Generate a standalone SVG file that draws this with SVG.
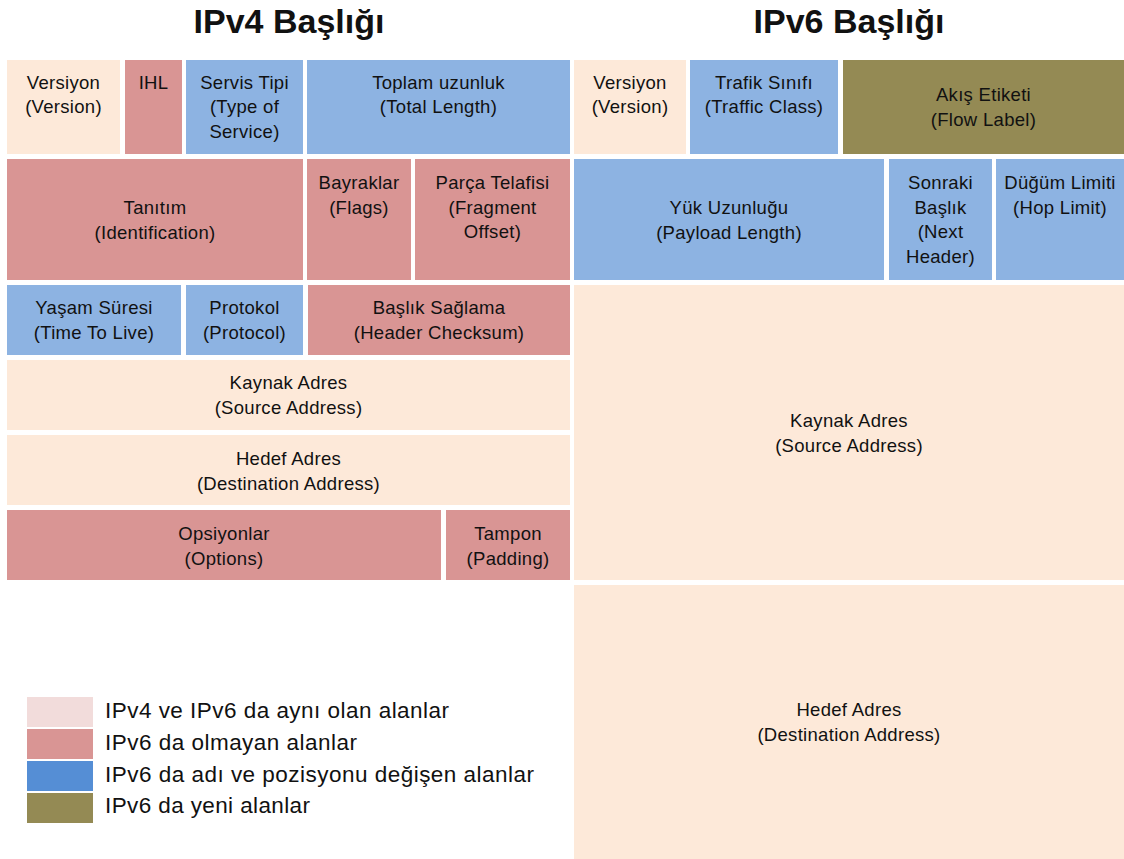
<svg xmlns="http://www.w3.org/2000/svg" width="1124" height="859" viewBox="0 0 1124 859">
  <style>
    .same { fill: #FDE9D9; }
    .gone { fill: #D99594; }
    .moved { fill: #8DB3E2; }
    .new { fill: #948A54; }
    text { font-family: "Liberation Sans", Arial, sans-serif; fill: #111111; }
    .lbl { font-size: 18.5px; letter-spacing: 0.3px; text-anchor: middle; }
    .title { font-size: 34px; font-weight: bold; text-anchor: middle; }
    .leg { font-size: 22.5px; }
  </style>
  <rect width="1124" height="859" fill="#FFFFFF"/>

  <!-- headings -->
  <text class="title" x="289" y="33">IPv4 Başlığı</text>
  <text class="title" x="849" y="33">IPv6 Başlığı</text>

  <!-- IPv4 header fields -->
  <g id="v4-version">
    <rect class="same" x="7" y="60" width="113" height="94"/>
    <text class="lbl" x="63.5" y="88.5">Versiyon</text>
    <text class="lbl" x="63.5" y="113">(Version)</text>
  </g>
  <g id="v4-ihl">
    <rect class="gone" x="125" y="60" width="57" height="94"/>
    <text class="lbl" x="153.5" y="88.5">IHL</text>
  </g>
  <g id="v4-tos">
    <rect class="moved" x="186" y="60" width="117" height="94"/>
    <text class="lbl" x="244.5" y="88.5">Servis Tipi</text>
    <text class="lbl" x="244.5" y="113">(Type of</text>
    <text class="lbl" x="244.5" y="137.5">Service)</text>
  </g>
  <g id="v4-total-length">
    <rect class="moved" x="307" y="60" width="263" height="94"/>
    <text class="lbl" x="438.5" y="88.5">Toplam uzunluk</text>
    <text class="lbl" x="438.5" y="113">(Total Length)</text>
  </g>
  <g id="v4-identification">
    <rect class="gone" x="7" y="159" width="296" height="121"/>
    <text class="lbl" x="155" y="213.5">Tanıtım</text>
    <text class="lbl" x="155" y="238.5">(Identification)</text>
  </g>
  <g id="v4-flags">
    <rect class="gone" x="307" y="159" width="104" height="121"/>
    <text class="lbl" x="359" y="188.5">Bayraklar</text>
    <text class="lbl" x="359" y="213.5">(Flags)</text>
  </g>
  <g id="v4-fragment-offset">
    <rect class="gone" x="415" y="159" width="155" height="121"/>
    <text class="lbl" x="492.5" y="188.5">Parça Telafisi</text>
    <text class="lbl" x="492.5" y="213.5">(Fragment</text>
    <text class="lbl" x="492.5" y="237.5">Offset)</text>
  </g>
  <g id="v4-ttl">
    <rect class="moved" x="7" y="285" width="174" height="70"/>
    <text class="lbl" x="94" y="313.5">Yaşam Süresi</text>
    <text class="lbl" x="94" y="338.5">(Time To Live)</text>
  </g>
  <g id="v4-protocol">
    <rect class="moved" x="186" y="285" width="117" height="70"/>
    <text class="lbl" x="244.5" y="313.5">Protokol</text>
    <text class="lbl" x="244.5" y="338.5">(Protocol)</text>
  </g>
  <g id="v4-checksum">
    <rect class="gone" x="308" y="285" width="262" height="70"/>
    <text class="lbl" x="439" y="313.5">Başlık Sağlama</text>
    <text class="lbl" x="439" y="338.5">(Header Checksum)</text>
  </g>
  <g id="v4-source">
    <rect class="same" x="7" y="360" width="563" height="70"/>
    <text class="lbl" x="288.5" y="388.5">Kaynak Adres</text>
    <text class="lbl" x="288.5" y="413.5">(Source Address)</text>
  </g>
  <g id="v4-destination">
    <rect class="same" x="7" y="435" width="563" height="70"/>
    <text class="lbl" x="288.5" y="464.5">Hedef Adres</text>
    <text class="lbl" x="288.5" y="489.5">(Destination Address)</text>
  </g>
  <g id="v4-options">
    <rect class="gone" x="7" y="510" width="434" height="70"/>
    <text class="lbl" x="224" y="539.5">Opsiyonlar</text>
    <text class="lbl" x="224" y="564.5">(Options)</text>
  </g>
  <g id="v4-padding">
    <rect class="gone" x="446" y="510" width="124" height="70"/>
    <text class="lbl" x="508" y="539.5">Tampon</text>
    <text class="lbl" x="508" y="564.5">(Padding)</text>
  </g>

  <!-- IPv6 header fields -->
  <g id="v6-version">
    <rect class="same" x="574" y="60" width="112" height="94"/>
    <text class="lbl" x="630" y="88.5">Versiyon</text>
    <text class="lbl" x="630" y="113">(Version)</text>
  </g>
  <g id="v6-traffic-class">
    <rect class="moved" x="690" y="60" width="148" height="94"/>
    <text class="lbl" x="764" y="88.5">Trafik Sınıfı</text>
    <text class="lbl" x="764" y="113">(Traffic Class)</text>
  </g>
  <g id="v6-flow-label">
    <rect class="new" x="843" y="60" width="281" height="94"/>
    <text class="lbl" x="983.5" y="100.5">Akış Etiketi</text>
    <text class="lbl" x="983.5" y="125.5">(Flow Label)</text>
  </g>
  <g id="v6-payload-length">
    <rect class="moved" x="574" y="159" width="310" height="121"/>
    <text class="lbl" x="729" y="213.5">Yük Uzunluğu</text>
    <text class="lbl" x="729" y="238.5">(Payload Length)</text>
  </g>
  <g id="v6-next-header">
    <rect class="moved" x="889" y="159" width="103" height="121"/>
    <text class="lbl" x="940.5" y="188.5">Sonraki</text>
    <text class="lbl" x="940.5" y="213.5">Başlık</text>
    <text class="lbl" x="940.5" y="237.5">(Next</text>
    <text class="lbl" x="940.5" y="262.5">Header)</text>
  </g>
  <g id="v6-hop-limit">
    <rect class="moved" x="996" y="159" width="128" height="121"/>
    <text class="lbl" x="1060" y="188.5">Düğüm Limiti</text>
    <text class="lbl" x="1060" y="213.5">(Hop Limit)</text>
  </g>
  <g id="v6-source">
    <rect class="same" x="574" y="285" width="550" height="295"/>
    <text class="lbl" x="849" y="426.5">Kaynak Adres</text>
    <text class="lbl" x="849" y="451.5">(Source Address)</text>
  </g>
  <g id="v6-destination">
    <rect class="same" x="574" y="585" width="550" height="274"/>
    <text class="lbl" x="849" y="715.5">Hedef Adres</text>
    <text class="lbl" x="849" y="740.5">(Destination Address)</text>
  </g>

  <!-- legend -->
  <g id="legend">
    <rect x="27" y="697" width="66" height="30" fill="#F2DCDB"/>
    <rect x="27" y="729" width="66" height="30" fill="#D99594"/>
    <rect x="27" y="761" width="66" height="30" fill="#558ED5"/>
    <rect x="27" y="793" width="66" height="30" fill="#948A54"/>
    <text class="leg" x="105" y="718" textLength="344" lengthAdjust="spacing">IPv4 ve IPv6 da aynı olan alanlar</text>
    <text class="leg" x="105" y="749.5" textLength="252" lengthAdjust="spacing">IPv6 da olmayan alanlar</text>
    <text class="leg" x="105" y="781.5" textLength="429" lengthAdjust="spacing">IPv6 da adı ve pozisyonu değişen alanlar</text>
    <text class="leg" x="105" y="813" textLength="205" lengthAdjust="spacing">IPv6 da yeni alanlar</text>
  </g>
</svg>
